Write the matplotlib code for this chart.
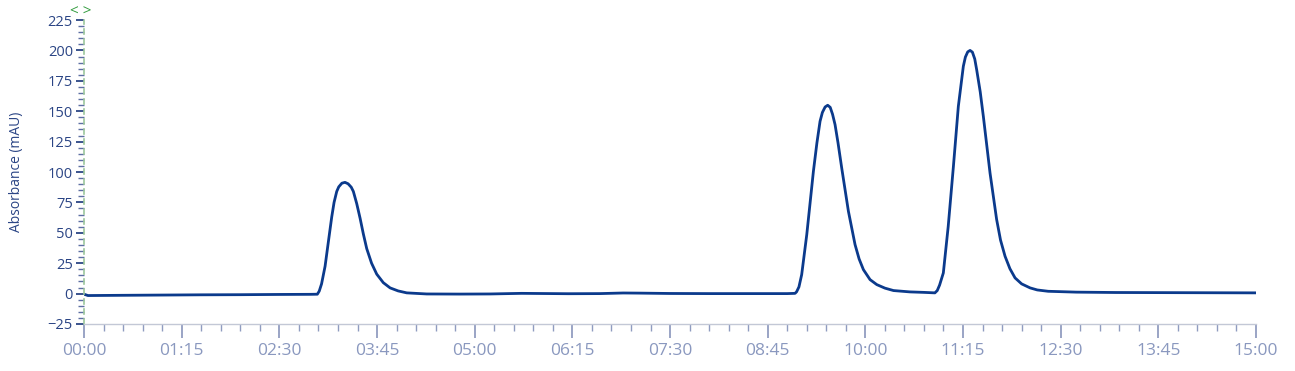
import matplotlib
matplotlib.use("Agg")
import matplotlib.pyplot as plt
from matplotlib.ticker import MultipleLocator, FuncFormatter

plt.rcParams["font.family"] = ["Open Sans", "DejaVu Sans"]

# retention time (minutes) and absorbance (mAU)
time_min = [0.0, 0.05, 0.5, 1.0, 1.5, 2.0, 2.5, 2.9, 2.986,
            3.01, 3.04, 3.085, 3.13, 3.17, 3.2, 3.234, 3.26, 3.30, 3.34, 3.38,
            3.42, 3.447, 3.49, 3.533, 3.575, 3.618, 3.68, 3.746, 3.83, 3.917,
            4.02, 4.13, 4.386, 4.8, 5.2,
            5.6, 5.8, 6.2, 6.6, 6.9, 7.1, 7.5, 8.0, 8.5, 9.0, 9.1,
            9.12, 9.15, 9.185, 9.25, 9.335, 9.38, 9.42, 9.45, 9.485, 9.518,
            9.55, 9.58, 9.612, 9.65, 9.698, 9.783, 9.868, 9.92, 9.975, 10.06,
            10.146, 10.25, 10.36, 10.57, 10.75, 10.89,
            10.92, 10.95, 10.998, 11.06, 11.127, 11.19, 11.254, 11.28, 11.31,
            11.34, 11.37, 11.40, 11.425, 11.47, 11.51, 11.596, 11.68, 11.73,
            11.788, 11.85, 11.916, 12.0, 12.108, 12.2, 12.34,
            12.7, 13.2, 13.8, 14.4, 15.0]
absorbance = [-0.5, -1.6, -1.4, -1.2, -1.0, -0.9, -0.7, -0.6, -0.5,
              2.0, 8.0, 22.5, 44.0, 63.0, 75.0, 84.0, 87.8, 90.8, 91.5, 90.3,
              87.5, 84.0, 74.0, 62.0, 49.0, 37.0, 25.0, 16.0, 9.0, 4.7,
              2.2, 0.6, -0.3, -0.4, -0.3,
              0.2, 0.1, -0.1, 0.0, 0.5, 0.4, 0.1, 0.0, 0.0, 0.0, 0.2,
              1.5, 5.5, 15.6, 48.5, 100.6, 124.0, 141.7, 149.0, 153.5, 154.9,
              153.2, 147.5, 139.0, 124.0, 103.0, 67.7, 40.3, 28.5, 19.7, 11.5,
              7.4, 4.5, 2.5, 1.4, 1.0, 0.6,
              2.5, 7.0, 17.0, 55.0, 104.7, 154.0, 187.0, 194.5, 198.8,
              200.0, 198.6, 193.0, 184.0, 166.0, 145.8, 99.0, 61.0, 44.0,
              30.7, 20.5, 12.9, 8.0, 4.7, 3.0, 1.9,
              1.2, 0.9, 0.8, 0.7, 0.6]

NAVY = "#0b3a8c"
AXIS_TEXT = "#2b4585"
X_TEXT = "#8a98bf"


def mmss(x, pos):
    sec = int(round(x * 60))
    return f"{sec // 60:02d}:{sec % 60:02d}"


fig = plt.figure(figsize=(12.95, 3.71), dpi=100)
ax = fig.add_axes([0.0649, 0.1267, 0.905, 0.8193])

ax.plot(time_min, absorbance, color=NAVY, lw=2.0, solid_joinstyle="round")

ax.set_xlim(0, 15)
ax.set_ylim(-25, 225)

ax.xaxis.set_major_locator(MultipleLocator(1.25))
ax.xaxis.set_minor_locator(MultipleLocator(0.25))
ax.xaxis.set_major_formatter(FuncFormatter(mmss))
ax.yaxis.set_major_locator(MultipleLocator(25))
ax.yaxis.set_minor_locator(MultipleLocator(5))

ax.tick_params(axis="x", which="major", length=10, width=1.1, color="#7f8cb5",
               labelcolor=X_TEXT, labelsize=12.5, pad=4)
ax.tick_params(axis="x", which="minor", length=5, width=1.0, color="#8f9cc0")
ax.tick_params(axis="y", which="major", length=6, width=1.3, color=AXIS_TEXT,
               labelcolor=AXIS_TEXT, labelsize=10.5, pad=2)
ax.tick_params(axis="y", which="minor", length=4, width=1.0, color="#5d6fa3")

for side in ("top", "right"):
    ax.spines[side].set_visible(False)
ax.spines["bottom"].set_color("#c3c8d6")
ax.spines["bottom"].set_linewidth(1.0)
ax.spines["left"].set_color("#9cc79c")
ax.spines["left"].set_linewidth(1.2)
ax.spines["left"].set_linestyle((0, (3, 3)))

ax.set_ylabel("Absorbance (mAU)", color=AXIS_TEXT, fontsize=10, labelpad=17)

fig.text(0.0625, 0.968, "< >", color="#2e9a3a", fontsize=11, ha="center",
         va="center")

fig.savefig("out.png", dpi=100)
